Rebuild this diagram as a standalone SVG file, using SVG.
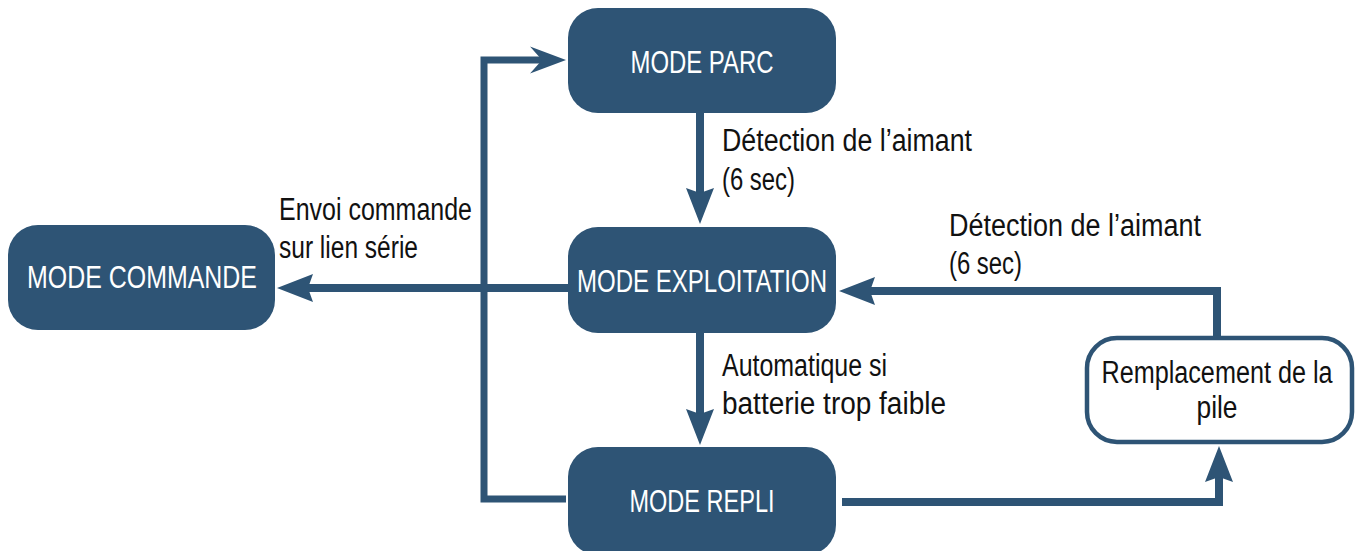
<svg xmlns="http://www.w3.org/2000/svg" width="1358" height="551" viewBox="0 0 1358 551">
<style>
.box{fill:#2e5475;}
.box2{fill:#ffffff;stroke:#2e5475;stroke-width:4.5;}
.bt{fill:#ffffff;font-family:"Liberation Sans",Arial,sans-serif;font-size:31px;text-anchor:middle;}
.lb{fill:#111111;font-family:"Liberation Sans",Arial,sans-serif;font-size:31px;}
.ln{fill:none;stroke:#2e5475;stroke-width:8;stroke-linejoin:miter;}
.ln7{fill:none;stroke:#2e5475;stroke-width:7;stroke-linejoin:miter;}
</style>
<defs>
<marker id="arr" markerUnits="userSpaceOnUse" markerWidth="40" markerHeight="30" refX="8" refY="14" orient="auto" overflow="visible">
<path d="M0,0 L36,14 L0,28 L5,14 Z" fill="#2e5475"/>
</marker>
<marker id="arrN" markerUnits="userSpaceOnUse" markerWidth="40" markerHeight="30" refX="14" refY="13.5" orient="auto" overflow="visible">
<path d="M0,0 L36,13.5 L0,27 L12,13.5 Z" fill="#2e5475"/>
</marker>
</defs>
<g id="connectors">
<path class="ln" d="M700,113 V196" marker-end="url(#arr)"/>
<path class="ln" d="M700,333 V417" marker-end="url(#arr)"/>
<path class="ln" d="M568,288 H305" marker-end="url(#arr)"/>
<path class="ln" d="M1217,337 V291 H867" marker-end="url(#arr)"/>
<path class="ln" d="M842,502 H1219 V474" marker-end="url(#arr)"/>
<path class="ln7" d="M566,499 H484 V60 H544" marker-end="url(#arrN)"/>
</g>
<g id="labels">
<text class="lb" x="722" y="151" textLength="250" lengthAdjust="spacingAndGlyphs">Détection de l’aimant</text>
<text class="lb" x="722" y="190" textLength="73" lengthAdjust="spacingAndGlyphs">(6 sec)</text>
<text class="lb" x="949" y="236" textLength="252" lengthAdjust="spacingAndGlyphs">Détection de l’aimant</text>
<text class="lb" x="949" y="274" textLength="73" lengthAdjust="spacingAndGlyphs">(6 sec)</text>
<text class="lb" x="279" y="220" textLength="193" lengthAdjust="spacingAndGlyphs">Envoi commande</text>
<text class="lb" x="279" y="258" textLength="139" lengthAdjust="spacingAndGlyphs">sur lien série</text>
<text class="lb" x="722" y="376" textLength="165" lengthAdjust="spacingAndGlyphs">Automatique si</text>
<text class="lb" x="722" y="414" textLength="224" lengthAdjust="spacingAndGlyphs">batterie trop faible</text>
</g>
<g id="mode-parc">
<rect class="box" x="568" y="8" width="268" height="105" rx="30"/>
<text class="bt" x="702" y="73" textLength="143" lengthAdjust="spacingAndGlyphs">MODE PARC</text>
</g>
<g id="mode-commande">
<rect class="box" x="8" y="225" width="267" height="105" rx="30"/>
<text class="bt" x="142" y="288" textLength="230" lengthAdjust="spacingAndGlyphs">MODE COMMANDE</text>
</g>
<g id="mode-exploitation">
<rect class="box" x="568" y="227" width="268" height="106" rx="30"/>
<text class="bt" x="702" y="292" textLength="250" lengthAdjust="spacingAndGlyphs">MODE EXPLOITATION</text>
</g>
<g id="mode-repli">
<rect class="box" x="568" y="447" width="268" height="108" rx="30"/>
<text class="bt" x="702" y="512" textLength="145" lengthAdjust="spacingAndGlyphs">MODE REPLI</text>
</g>
<g id="remplacement">
<rect class="box2" x="1087" y="338" width="265" height="104" rx="30"/>
<text class="lb" transform="translate(1217,383) scale(0.813,1)" x="0" y="0" text-anchor="middle">Remplacement de la</text>
<text class="lb" transform="translate(1217,418) scale(0.85,1)" x="0" y="0" text-anchor="middle">pile</text>
</g>
</svg>
